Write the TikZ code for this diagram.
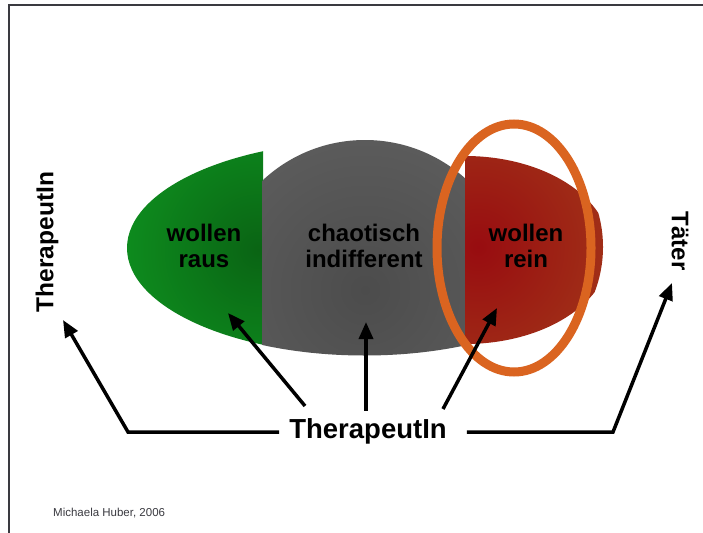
\documentclass[tikz,border=0pt]{standalone}
\usepackage{fontspec}
\setmainfont{Liberation Sans}
\usetikzlibrary{arrows.meta,calc}
\definecolor{framec}{HTML}{3A3A40}
\definecolor{gdark}{HTML}{0A6414}
\definecolor{glight}{HTML}{12BC2A}
\definecolor{ydark}{HTML}{4C4C4C}
\definecolor{ylight}{HTML}{6A6A6A}
\definecolor{rdark}{HTML}{980C10}
\definecolor{rlight}{HTML}{A8501E}
\definecolor{ringc}{HTML}{DA6420}
\pgfdeclareradialshading{greensh}{\pgfpoint{0bp}{0bp}}{color(0bp)=(gdark); color(50bp)=(glight)}
\pgfdeclareradialshading{graysh}{\pgfpoint{0bp}{0bp}}{color(0bp)=(ydark); color(50bp)=(ylight)}
\pgfdeclareradialshading{redsh}{\pgfpoint{0bp}{0bp}}{color(0bp)=(rdark); color(50bp)=(rlight)}
\begin{document}
\begin{tikzpicture}[x=1pt,y=-1pt,
  lbl/.style={font=\bfseries\fontsize{24}{26}\selectfont, align=center, text=black, inner sep=0pt},
  arr/.style={line width=3.5pt, -{Triangle[length=17pt,width=14pt]}}]
\useasboundingbox (0,0) rectangle (703,532);
\fill[white] (0,0) rectangle (703,532);
\draw[framec, line width=2.5pt] (9,533) -- (9,5) -- (704,5);
% green part
\begin{scope}
  \clip (364.5,248) ellipse [x radius=237.5, y radius=107];
  \clip (120,130) rectangle (263,370);
  \shade[shading=greensh] (258,250) circle (150);
\end{scope}
% gray part
\begin{scope}
  \clip (364.5,247) ellipse [x radius=238, y radius=108.5];
  \clip (262.5,130) rectangle (465.5,370);
  \shade[shading=graysh] (365,290) circle (150);
\end{scope}
% red part
\begin{scope}
  \clip (465,250) ellipse [x radius=145, y radius=94] (588,245) ellipse [x radius=14, y radius=28];
  \clip (465,130) rectangle (610,370);
  \shade[shading=redsh] (478,247) circle (125);
\end{scope}
\node[lbl] (raus) at (204,246) {wollen\\raus};
\node[lbl] (chaos) at (364,246) {chaotisch\\indifferent};
\node[lbl] (rein) at (526,246) {wollen\\rein};
\draw[ringc, line width=9pt] (514,248) ellipse [x radius=77, y radius=124];
% labels
\node[font=\bfseries\fontsize{27.5}{30}\selectfont, inner sep=0pt] (T) at (368,431) {TherapeutIn};
\node[font=\bfseries\fontsize{24.5}{26}\selectfont, inner sep=0pt, rotate=90] (TL) at (47,242) {TherapeutIn};
\node[font=\bfseries\fontsize{24}{26}\selectfont, inner sep=0pt, rotate=-90] (TR) at (680,241) {Täter};
\node[anchor=base west, inner sep=0pt, text=framec, font=\fontsize{11.5}{13}\selectfont] (cred) at (53,516) {Michaela Huber, 2006};
% connectors
\coordinate (bendL) at (128,432);
\coordinate (tipL) at (63,320);
\coordinate (bendR) at (613,432);
\coordinate (tipR) at (672,283);
\coordinate (tipG) at (228,313);
\coordinate (tipC) at (366,322);
\coordinate (tipRd) at (497,308);
\draw[arr] ($(T.west)+(-10,1)$) -- (bendL) -- (tipL);
\draw[arr] ($(T.east)+(20,1)$) -- (bendR) -- (tipR);
\draw[arr] ($(T.north)+(-63,-12)$) -- (tipG);
\draw[arr] ($(T.north)+(-2,-7)$) -- (tipC);
\draw[arr] ($(T.north)+(75,-9)$) -- (tipRd);
\end{tikzpicture}
\end{document}
